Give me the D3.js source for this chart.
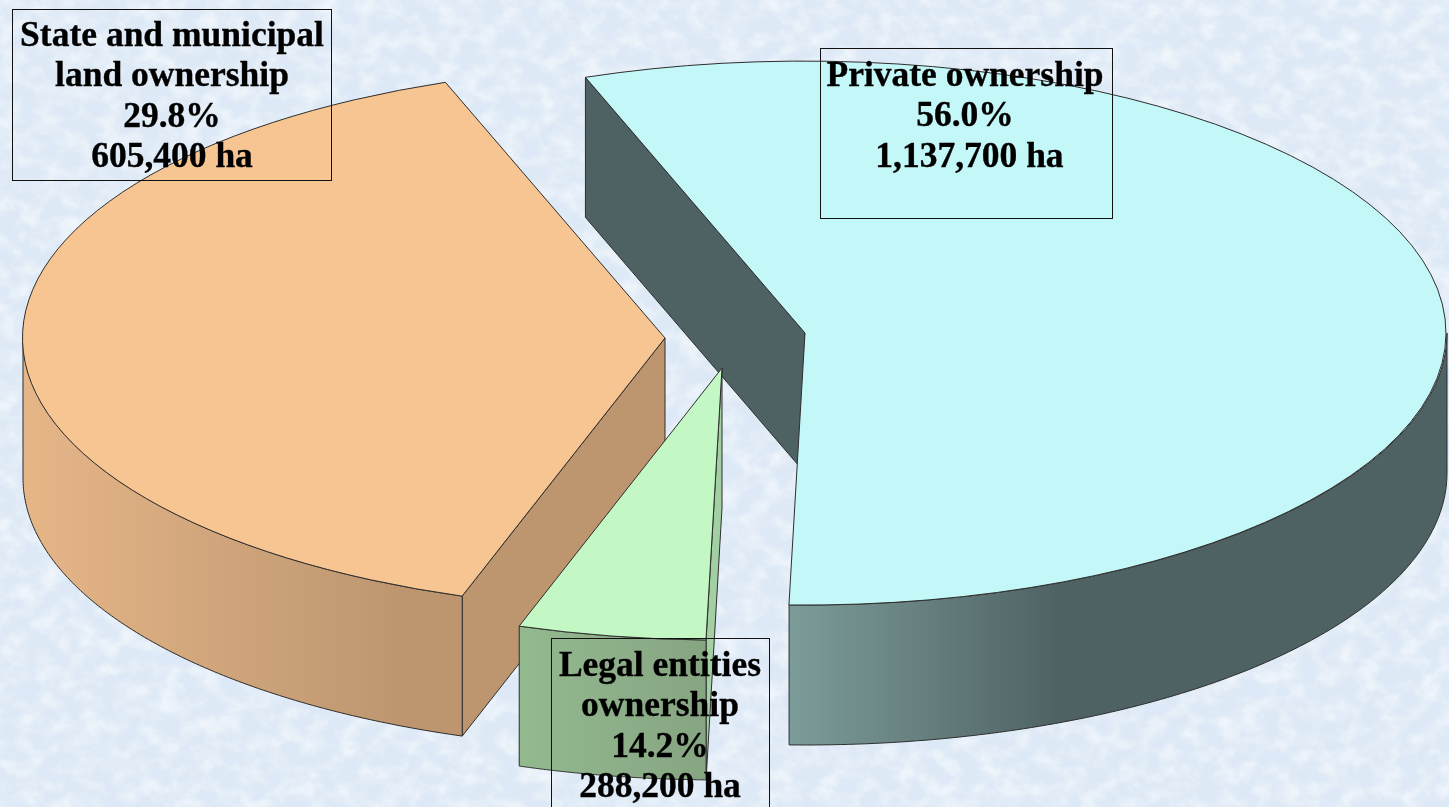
<!DOCTYPE html>
<html><head><meta charset="utf-8">
<script src="https://cdn.jsdelivr.net/npm/d3@7"></script>
<style>
html,body{margin:0;padding:0;background:#dde9f6;overflow:hidden}
svg{display:block}
text{font-family:"Liberation Serif",serif;font-weight:700;fill:#000;stroke:#000;stroke-width:.35px;white-space:pre}
</style></head><body>
<div id="chart"></div>
<script>
// Data
const categories = ["Private ownership", "Legal entities ownership", "State and municipal land ownership"];
// Shares as drawn in the picture (angles of the slices), in clockwise order from the start angle
const drawnShares = [55.95, 4.72, 39.33];
const percentLabels = ["56.0%", "14.2%", "29.8%"];
const hectareLabels = ["1,137,700 ha", "288,200 ha", "605,400 ha"];
const labelLines = [
  ["Private ownership", "56.0%", " 1,137,700 ha"],
  ["Legal entities", "ownership", "14.2%", "288,200 ha"],
  ["State and municipal", "land ownership", "29.8%", "605,400 ha"]
];
const topColors = ["#c4f7f7", "#c3f7c3", "#f7c592"];
const innerFaceColors = ["#4f6263", "#a3d0a3", "#bd9670"];
const rimStops = [["#7c9c9a", "#4f6263"], ["#93b98f", "#86a582"], ["#e6b688", "#bd9670"]];
const rimGradientX = [[789, 1060], [520, 707], [22, 400]];

// Layout
const W = 1449, H = 807, rx = 642, ry = 272, depth = 140;
const apexes = [[805, 333], [722, 368], [665, 338]];
const boxes = [
  {x: 820.5, y: 48.5, w: 292, h: 170, cx: 965, base: 86},
  {x: 551.5, y: 638.5, w: 218, h: 190, cx: 660, base: 676},
  {x: 12.5, y: 9.5, w: 319, h: 171, cx: 172, base: 46}
];
const fontSize = 35.5, lineGap = 40.3;
const startDeg = -20;

const svg = d3.select("#chart").append("svg").attr("width", W).attr("height", H);
const defs = svg.append("defs");

// Mottled paper background
const tex = defs.append("filter").attr("id", "paper")
  .attr("x", 0).attr("y", 0).attr("width", "100%").attr("height", "100%");
tex.append("feTurbulence").attr("type", "fractalNoise").attr("baseFrequency", "0.05 0.06")
  .attr("numOctaves", 5).attr("seed", 7).attr("result", "n");
tex.append("feColorMatrix").attr("in", "n").attr("type", "matrix")
  .attr("values", "0 0 0 0 1  0 0 0 0 1  0 0 0 0 1  1.2 0 0 0 -0.46");
const tex2 = defs.append("filter").attr("id", "paper2")
  .attr("x", 0).attr("y", 0).attr("width", "100%").attr("height", "100%");
tex2.append("feTurbulence").attr("type", "fractalNoise").attr("baseFrequency", "0.018 0.024")
  .attr("numOctaves", 5).attr("seed", 23).attr("result", "n");
tex2.append("feColorMatrix").attr("in", "n").attr("type", "matrix")
  .attr("values", "0 0 0 0 0.72  0 0 0 0 0.81  0 0 0 0 0.92  0 1.1 0 0 -0.44");
const soft = defs.append("filter").attr("id", "soft").attr("x", "-5%").attr("y", "-5%").attr("width", "110%").attr("height", "110%");
soft.append("feGaussianBlur").attr("stdDeviation", 0.45);

svg.append("rect").attr("width", W).attr("height", H).attr("fill", "#dde9f6");
svg.append("rect").attr("width", W).attr("height", H).attr("filter", "url(#paper2)");
svg.append("rect").attr("width", W).attr("height", H).attr("filter", "url(#paper)");

// Gradients for the outer rims
rimStops.forEach((s, i) => {
  const g = defs.append("linearGradient").attr("id", "rim" + i)
    .attr("gradientUnits", "userSpaceOnUse")
    .attr("x1", rimGradientX[i][0]).attr("x2", rimGradientX[i][1]).attr("y1", 0).attr("y2", 0);
  g.append("stop").attr("offset", 0).attr("stop-color", s[0]);
  g.append("stop").attr("offset", 1).attr("stop-color", s[1]);
});

const pie = d3.pie().sort(null).value(d => d)
  .startAngle(startDeg * Math.PI / 180)
  .endAngle((startDeg + 360) * Math.PI / 180);
const arcs = pie(drawnShares);

const unitArc = d3.arc().innerRadius(0).outerRadius(1);
const line = d3.line();
const edge = "#2e2e2e";

function pt(i, a, dy = 0) {
  return [apexes[i][0] + rx * Math.sin(a), apexes[i][1] - ry * Math.cos(a) + dy];
}

function drawSlice(i) {
  const d = arcs[i];
  const g = svg.append("g").attr("class", "slice");
  // Flat cut face at the slice's start edge, dropped straight down by the pie's depth
  const [ax, ay] = apexes[i];
  const e = pt(i, d.startAngle);
  g.append("path")
    .attr("d", line([[ax, ay], e, [e[0], e[1] + depth], [ax, ay + depth]]) + "Z")
    .attr("fill", innerFaceColors[i]).attr("stroke", edge).attr("stroke-width", 1);
  // Outer rim: the front half of the ellipse only
  const lo = Math.max(d.startAngle, Math.PI / 2), hi = Math.min(d.endAngle, 3 * Math.PI / 2);
  const samples = d3.range(0, 121).map(k => lo + (hi - lo) * k / 120);
  const upper = samples.map(s => pt(i, s));
  const lower = samples.map(s => pt(i, s, depth)).reverse();
  g.append("path").attr("d", line(upper.concat(lower)) + "Z")
    .attr("fill", `url(#rim${i})`).attr("stroke", edge).attr("stroke-width", 1);
  // Top surface
  g.append("path")
    .attr("transform", `translate(${ax},${ay}) scale(${rx},${ry})`)
    .attr("d", unitArc(d))
    .attr("fill", topColors[i]).attr("stroke", edge).attr("stroke-width", 1)
    .attr("vector-effect", "non-scaling-stroke");
}

// Painted back to front, as the slices overlap
drawSlice(0);
drawSlice(2);
drawSlice(1);

// Label boxes
labelLines.forEach((lines, i) => {
  const b = boxes[i];
  svg.append("rect").attr("x", b.x).attr("y", b.y).attr("width", b.w).attr("height", b.h)
    .attr("fill", "none").attr("stroke", "#111").attr("stroke-width", 1);
  const t = svg.append("g").attr("filter", "url(#soft)");
  lines.forEach((s, k) => t.append("text")
    .attr("x", b.cx).attr("y", b.base + k * lineGap)
    .attr("text-anchor", "middle").attr("font-size", fontSize).text(s));
});
</script>
</body></html>
